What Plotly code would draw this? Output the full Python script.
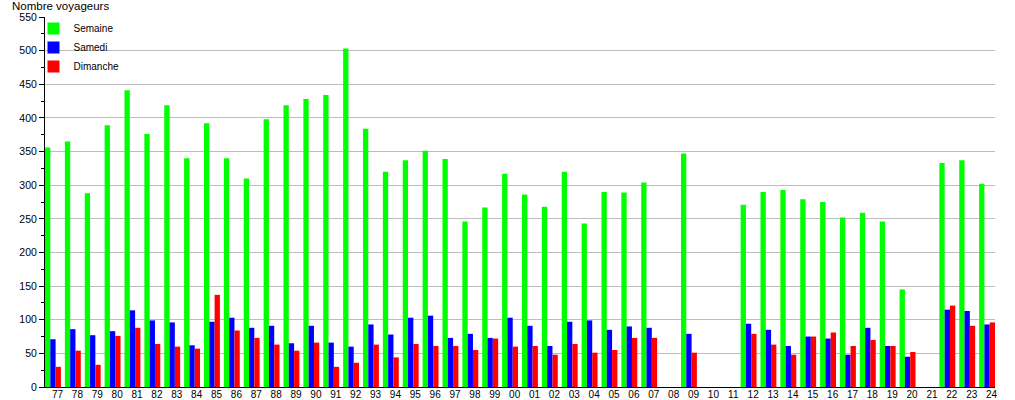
import plotly.graph_objects as go

years = ["77","78","79","80","81","82","83","84","85","86","87","88","89","90","91","92",
         "93","94","95","96","97","98","99","00","01","02","03","04","05","06","07","08",
         "09","10","11","12","13","14","15","16","17","18","19","20","21","22","23","24"]

semaine = [356,365,288,389,441,376,419,340,392,340,310,398,419,428,434,503,
           384,320,337,351,339,246,267,317,286,268,320,243,290,289,304,None,
           347,None,None,271,290,293,279,275,252,259,246,145,None,333,337,302]

samedi = [71,86,77,83,114,99,96,62,97,103,88,91,65,91,66,60,
          93,78,103,106,73,79,73,103,91,61,97,99,85,90,88,None,
          79,None,None,94,85,61,75,72,48,88,61,45,None,115,113,93]

dimanche = [30,54,33,76,88,64,60,57,137,84,73,63,54,66,30,36,
            63,44,64,61,61,55,72,60,61,48,64,51,55,73,73,None,
            51,None,None,79,63,48,75,81,61,70,61,52,None,121,91,96]

idx = list(range(len(years)))
font = "Liberation Sans, Arial, sans-serif"

fig = go.Figure()
fig.add_trace(go.Bar(x=idx, y=semaine, name="Semaine", marker=dict(color="#00ff00", line_width=0)))
fig.add_trace(go.Bar(x=idx, y=samedi, name="Samedi", marker=dict(color="#0000ff", line_width=0)))
fig.add_trace(go.Bar(x=idx, y=dimanche, name="Dimanche", marker=dict(color="#ff0000", line_width=0)))

fig.update_layout(
    width=1015, height=400,
    margin=dict(l=45, r=20, t=17, b=13, autoexpand=False),
    paper_bgcolor="white", plot_bgcolor="white",
    barmode="group", bargap=0.2, bargroupgap=0,
    font=dict(family=font, size=11, color="black"),
    showlegend=True,
    legend=dict(x=-11.5/950, y=1.0 + 3/370, xanchor="left", yanchor="top",
                bgcolor="rgba(0,0,0,0)", font=dict(size=10, family=font),
                tracegroupgap=0, itemwidth=30),
    annotations=[dict(text="Nombre voyageurs", xref="paper", yref="paper",
                      x=(10-45)/950, y=1+(17-6)/370, xanchor="left", yanchor="middle",
                      showarrow=False, font=dict(size=11.5, family=font))],
)

fig.update_xaxes(
    range=[-0.4, len(years)-0.6], automargin=False,
    tickmode="array", tickvals=[i + 0.23 for i in idx], ticktext=years,
    showgrid=False, zeroline=False,
    showline=True, linecolor="black", linewidth=1,
    ticks="", tickfont=dict(size=10, family=font), ticklabelstandoff=-2,
)
fig.update_yaxes(
    range=[0, 550], tickmode="linear", tick0=0, dtick=50, automargin=False,
    showgrid=True, gridcolor="#bdbdbd", gridwidth=1,
    zeroline=False, showline=True, linecolor="black", linewidth=1,
    ticks="outside", ticklen=5, tickcolor="black",
    minor=dict(dtick=25, tick0=0, ticks="outside", ticklen=3, tickcolor="black", showgrid=False),
    tickfont=dict(size=10.5, family=font),
)

fig.write_html("out.html", config={"displayModeBar": False},
               post_script="document.body.style.margin='0px';")
